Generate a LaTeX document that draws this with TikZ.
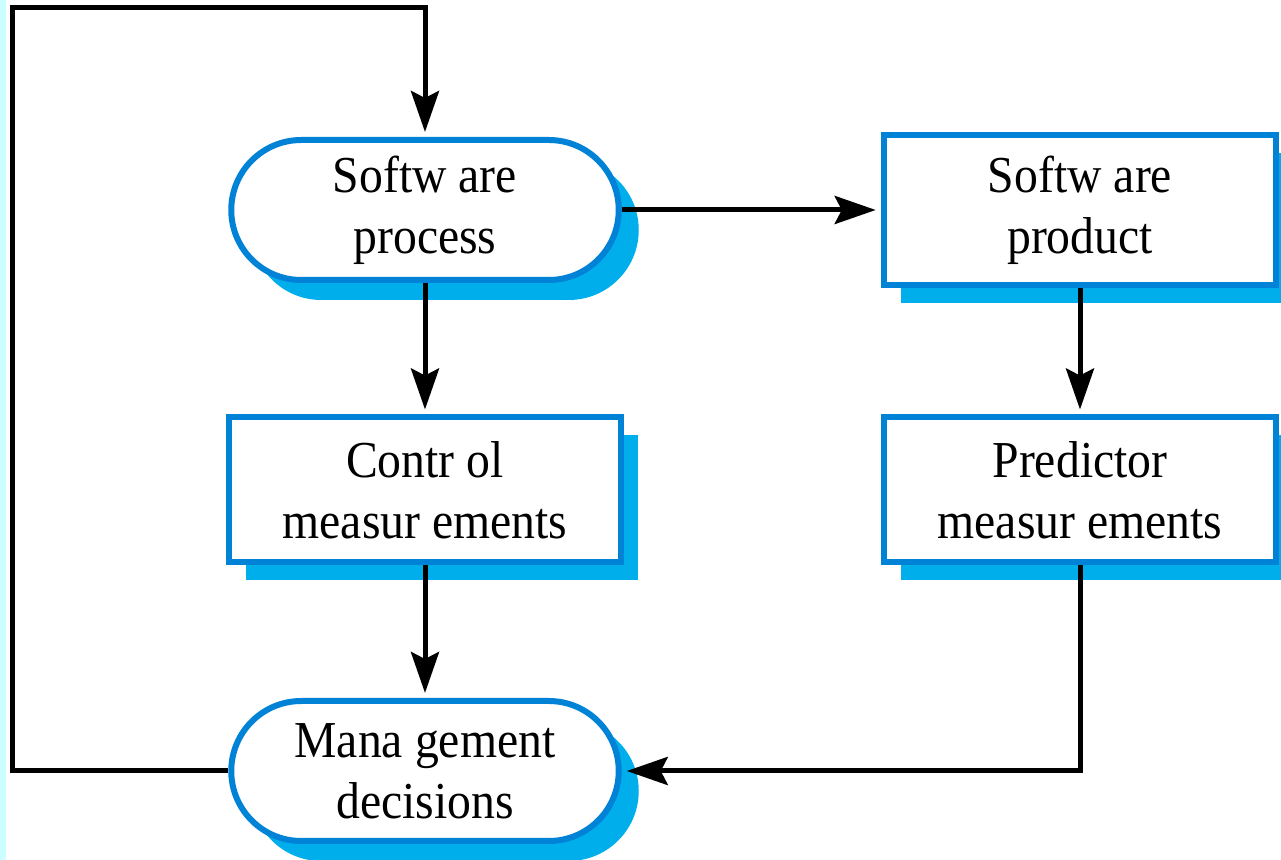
\documentclass[tikz,border=0pt]{standalone}
\usepackage{fontspec}
\setmainfont[FakeStretch=0.92]{Liberation Serif}
\usetikzlibrary{arrows.meta,shadows,calc}
\definecolor{boxblue}{RGB}{0,130,214}
\definecolor{shadowblue}{RGB}{0,174,235}
\definecolor{stripcyan}{RGB}{204,255,255}

\begin{document}
\begin{tikzpicture}[
	every node/.style={font=\fontsize{29.5}{34.5}\selectfont, align=center},
	basebox/.style={draw=boxblue, line width=0.12cm, fill=white},
	flatbox/.style={basebox, minimum width=7.85cm, minimum height=2.9cm,
		drop shadow={shadow xshift=0.34cm, shadow yshift=-0.36cm, fill=shadowblue, opacity=1}},
	roundbox/.style={basebox, minimum width=7.75cm, minimum height=2.8cm, rounded corners=1.4cm,
		drop shadow={shadow xshift=0.4cm, shadow yshift=-0.4cm, fill=shadowblue, opacity=1}},
	flow/.style={line width=0.1cm, -{Stealth[length=0.82cm, width=0.56cm, inset=0.14cm]}, shorten >=0.1cm}
]

	\useasboundingbox (0,0) rectangle (25.62,17.2);
	\fill[stripcyan] (0,0) rectangle (0.12,17.2);

	% boxes
	\node[roundbox] (proc) at (8.5,13.0) {Softw are\\process};
	\node[flatbox, minimum height=3.0cm] (prod) at (21.6,13.0) {Softw are\\product};
	\node[flatbox] (ctrl) at (8.5,7.4) {Contr ol\\measur ements};
	\node[flatbox] (pred) at (21.6,7.4) {Predictor\\measur ements};
	\node[roundbox] (mgmt) at (8.5,1.78) {Mana gement\\decisions};

	\coordinate (turn) at (0.24,17.04); %feedback corner

	% connectors
	\draw[flow] (proc.east) -- (prod.west);
	\draw[flow] (proc.south) -- (ctrl.north);
	\draw[flow] (prod.south) -- (pred.north);
	\draw[flow] (ctrl.south) -- (mgmt.north);
	\draw[flow] (pred.south) |- (mgmt.east);
	\draw[flow] (mgmt.west) -| (turn) -| (proc.north); %back to the process

\end{tikzpicture}
\end{document}
